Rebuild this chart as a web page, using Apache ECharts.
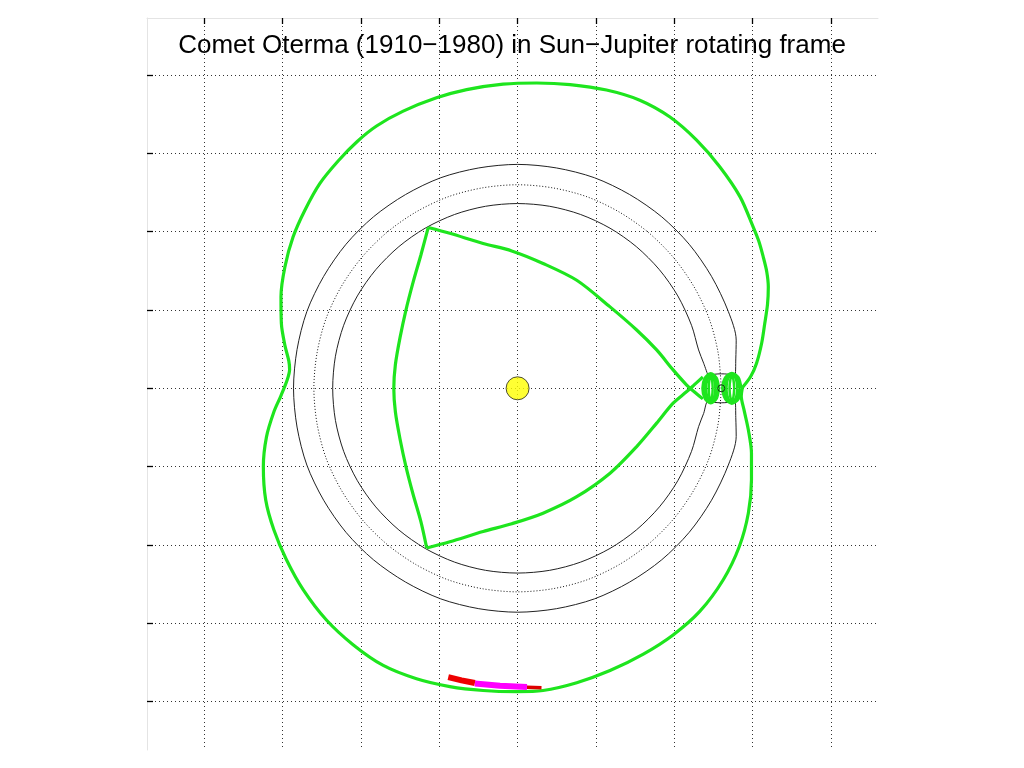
<!DOCTYPE html>
<html><head><meta charset="utf-8">
<script src="https://cdn.jsdelivr.net/npm/echarts@6/dist/echarts.min.js"></script>
<style>html,body{margin:0;padding:0;background:#fff}#c{width:1024px;height:768px}</style>
</head><body><div id="c"></div>
<script>
const titleText = 'Comet Oterma (1910\u22121980) in Sun\u2212Jupiter rotating frame';
const gridTicks = [-8, -6, -4, -2, 0, 2, 4, 6, 8];
const xRange = [-9.46, 9.2];
const yRange = [-9.24, 9.46];

// Sun and Jupiter positions (AU)
const sunPos = [[0, 0]];
const jupiterPos = [[5.2, 0]];

// Jupiter's orbit (dotted)
const jupiterOrbit = [[5.2,0],[5.12,0.9],[4.89,1.78],[4.5,2.6],[3.98,3.34],[3.34,3.98],[2.6,4.5],[1.78,4.89],[0.9,5.12],[0,5.2],[-0.9,5.12],[-1.78,4.89],[-2.6,4.5],[-3.34,3.98],[-3.98,3.34],[-4.5,2.6],[-4.89,1.78],[-5.12,0.9],[-5.2,0],[-5.12,-0.9],[-4.89,-1.78],[-4.5,-2.6],[-3.98,-3.34],[-3.34,-3.98],[-2.6,-4.5],[-1.78,-4.89],[-0.9,-5.12],[0,-5.2],[0.9,-5.12],[1.78,-4.89],[2.6,-4.5],[3.34,-3.98],[3.98,-3.34],[4.5,-2.6],[4.89,-1.78],[5.12,-0.9],[5.2,0]];

// Zero-velocity (horseshoe) curve
const zvcCurve = [[4.86,0.33],[4.75,0.64],[4.62,0.98],[4.44,1.61],[4.09,2.36],[3.62,3.03],[3.03,3.62],[2.36,4.09],[1.61,4.44],[0.82,4.65],[0,4.72],[-0.82,4.65],[-1.61,4.44],[-2.36,4.09],[-3.03,3.62],[-3.62,3.03],[-4.09,2.36],[-4.44,1.61],[-4.65,0.82],[-4.72,0],[-4.65,-0.82],[-4.44,-1.61],[-4.09,-2.36],[-3.62,-3.03],[-3.03,-3.62],[-2.36,-4.09],[-1.61,-4.44],[-0.82,-4.65],[0,-4.72],[0.82,-4.65],[1.61,-4.44],[2.36,-4.09],[3.03,-3.62],[3.62,-3.03],[4.09,-2.36],[4.44,-1.61],[4.62,-0.98],[4.75,-0.64],[4.86,-0.33],[5.03,-0.36],[5.2,-0.37],[5.38,-0.36],[5.55,-0.33],[5.57,-0.75],[5.58,-1.23],[5.38,-1.96],[4.95,-2.86],[4.38,-3.68],[3.68,-4.38],[2.86,-4.95],[1.96,-5.38],[0.99,-5.63],[0,-5.72],[-0.99,-5.63],[-1.96,-5.38],[-2.86,-4.95],[-3.68,-4.38],[-4.38,-3.68],[-4.95,-2.86],[-5.38,-1.96],[-5.63,-0.99],[-5.72,0],[-5.63,0.99],[-5.38,1.96],[-4.95,2.86],[-4.38,3.68],[-3.68,4.38],[-2.86,4.95],[-1.96,5.38],[-0.99,5.63],[0,5.72],[0.99,5.63],[1.96,5.38],[2.86,4.95],[3.68,4.38],[4.38,3.68],[4.95,2.86],[5.38,1.96],[5.58,1.23],[5.57,0.75],[5.55,0.33],[5.38,0.36],[5.2,0.37],[5.03,0.36],[4.86,0.33]];

// Comet trajectory pieces (AU)
const outerLoop = [[5.74,0.02],[5.95,0.30],[6.10,0.64],[6.23,1.15],[6.31,1.66],[6.38,2.15],[6.40,2.59],[6.36,2.98],[6.27,3.36],[6.16,3.75],[6.01,4.13],[5.68,4.89],[5.16,5.66],[4.57,6.34],[3.89,6.93],[3.12,7.36],[2.27,7.62],[1.34,7.76],[0.49,7.80],[-0.37,7.77],[-1.30,7.63],[-2.07,7.42],[-2.92,7.08],[-3.60,6.70],[-4.10,6.30],[-4.57,5.82],[-5.05,5.23],[-5.43,4.55],[-5.73,3.87],[-5.94,3.10],[-6.04,2.34],[-6.03,1.66],[-5.94,1.10],[-5.84,0.70],[-5.82,0.48],[-5.88,0.22],[-6.05,-0.21],[-6.22,-0.60],[-6.41,-1.24],[-6.49,-2.00],[-6.43,-2.85],[-6.22,-3.62],[-5.90,-4.38],[-5.47,-5.15],[-4.88,-5.92],[-4.20,-6.55],[-3.43,-7.08],[-2.58,-7.42],[-1.73,-7.62],[-0.88,-7.72],[-0.03,-7.75],[0.65,-7.72],[1.51,-7.52],[2.36,-7.21],[3.21,-6.79],[3.97,-6.30],[4.65,-5.70],[5.25,-4.89],[5.66,-4.04],[5.89,-3.19],[5.97,-2.34],[5.97,-1.66],[5.89,-1.06],[5.78,-0.55],[5.71,-0.20],[5.74,0.02]];
const innerTop = [[-2.28,4.11],[-1.73,3.96],[-0.88,3.70],[-0.15,3.51],[0.65,3.19],[1.51,2.76],[2.36,2.08],[3.04,1.49],[3.55,0.98],[3.97,0.47],[4.31,0.09],[4.50,-0.08],[4.73,-0.27]];
const innerBottom = [[-2.32,-4.08],[-1.73,-3.92],[-0.88,-3.66],[-0.15,-3.46],[0.65,-3.19],[1.51,-2.77],[2.36,-2.17],[3.04,-1.49],[3.55,-0.89],[3.97,-0.38],[4.31,-0.09],[4.50,0.08],[4.73,0.29]];
const innerLeft = [[-2.28,4.11],[-2.47,3.40],[-2.67,2.70],[-2.85,2.00],[-3.00,1.30],[-3.12,0.60],[-3.16,0],[-3.12,-0.60],[-3.00,-1.30],[-2.85,-2.00],[-2.67,-2.70],[-2.47,-3.40],[-2.32,-4.08]];
const lobeL1 = [[5.13,0],[5.07,0.26],[4.93,0.37],[4.79,0.26],[4.73,0],[4.79,-0.26],[4.93,-0.37],[5.07,-0.26],[5.13,0]];
const lobeL2 = [[5.06,0],[5.02,0.24],[4.93,0.34],[4.84,0.24],[4.80,0],[4.84,-0.24],[4.93,-0.34],[5.02,-0.24],[5.06,0]];
const lobeL3 = [[4.98,0],[4.965,0.21],[4.93,0.30],[4.895,0.21],[4.88,0],[4.895,-0.21],[4.93,-0.30],[4.965,-0.21],[4.98,0]];
const lobeR1 = [[5.70,0],[5.63,0.27],[5.47,0.38],[5.31,0.27],[5.24,0],[5.31,-0.27],[5.47,-0.38],[5.63,-0.27],[5.70,0]];
const lobeR2 = [[5.62,0],[5.58,0.25],[5.47,0.35],[5.36,0.25],[5.32,0],[5.36,-0.25],[5.47,-0.35],[5.58,-0.25],[5.62,0]];
const lobeR3 = [[5.53,0],[5.51,0.22],[5.47,0.31],[5.43,0.22],[5.41,0],[5.43,-0.22],[5.47,-0.31],[5.51,-0.22],[5.53,0]];

// Comet position trail markers
const trailRed = [[-1.77,-7.38],[-1.43,-7.46],[-1.09,-7.53]];
const trailMagenta = [[-1.09,-7.54],[-0.45,-7.60],[0.24,-7.63]];
const trailRedEnd = [[0.24,-7.64],[0.61,-7.65]];

const GREEN = '#1ee51e';

function line(data, color, width, extra) {
  return Object.assign({
    type: 'line', data: data, showSymbol: false, symbol: 'none', silent: true,
    lineStyle: { color: color, width: width }, smooth: 0.3, z: 3, animation: false
  }, extra || {});
}

const series = [
  line(zvcCurve, '#222', 1, { z: 2 }),
  line(jupiterOrbit, '#000', 1, { z: 2, lineStyle: { color: '#111', width: 1, type: [1, 2] } }),
  line(outerLoop, GREEN, 3.2),
  line(innerTop, GREEN, 3.2),
  line(innerBottom, GREEN, 3.2),
  line(innerLeft, GREEN, 3.2),
  line(lobeL1, GREEN, 3.4),
  line(lobeL2, GREEN, 3.4),
  line(lobeL3, GREEN, 2.5),
  line(lobeR1, GREEN, 3.4),
  line(lobeR2, GREEN, 3.4),
  line(lobeR3, GREEN, 2.5),
  line(trailRed, '#ee0000', 6, { smooth: false, z: 4 }),
  line(trailMagenta, '#ff00ff', 6, { smooth: false, z: 4 }),
  line(trailRedEnd, '#dd0000', 3.5, { smooth: false, z: 4 }),
  { type: 'scatter', data: sunPos, symbol: 'circle', symbolSize: 23, silent: true, z: 5, animation: false,
    itemStyle: { color: '#ffff00', borderColor: '#222', borderWidth: 1 } },
  { type: 'scatter', data: jupiterPos, symbol: 'circle', symbolSize: 7, silent: true, z: 5, animation: false,
    itemStyle: { color: 'rgba(0,0,0,0)', borderColor: '#111', borderWidth: 1 } }
];

function axis(pos, range) {
  return {
    type: 'value', position: pos, min: range[0], max: range[1],
    axisLine: { show: true, onZero: false, lineStyle: { color: '#e4e4e4', width: 1 } },
    axisTick: { show: true, inside: true, length: 6, customValues: gridTicks, lineStyle: { color: '#000', width: 1.3 } },
    axisLabel: { show: false, customValues: gridTicks },
    splitLine: { show: true, lineStyle: { color: '#333', width: 1, type: [1, 3] } }
  };
}

const chart = echarts.init(document.getElementById('c'), null, { renderer: 'canvas' });
chart.setOption({
  backgroundColor: '#fff',
  animation: false,
  title: {
    text: titleText, left: 'center', top: 28,
    textStyle: { fontFamily: 'Liberation Sans, Arial, sans-serif', fontSize: 26, fontWeight: 'normal', color: '#000' }
  },
  grid: { left: 147, top: 18, width: 731, height: 732, containLabel: false },
  xAxis: axis('top', xRange),
  yAxis: axis('left', yRange),
  series: series
});
</script>
</body></html>
